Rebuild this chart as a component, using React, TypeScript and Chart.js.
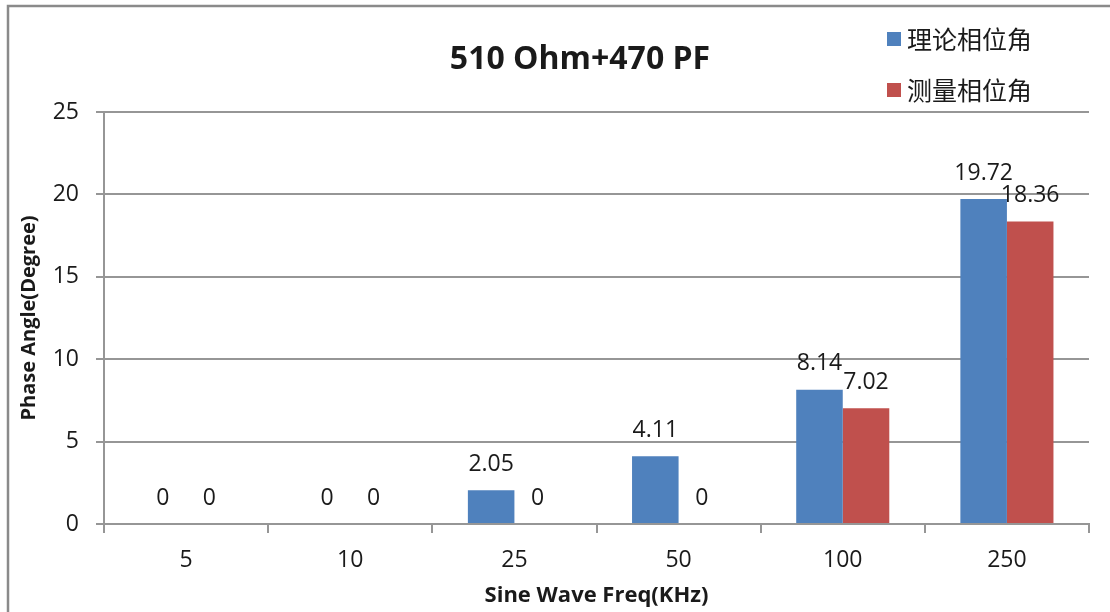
import React, { useEffect, useRef } from 'react';
import { Chart, registerables } from 'chart.js';

Chart.register(...registerables);

const categories = ['5', '10', '25', '50', '100', '250'];
const theoretical = [0, 0, 2.05, 4.11, 8.14, 19.72];
const measured = [0, 0, 0, 0, 7.02, 18.36];
const seriesNames = ['理论相位角', '测量相位角'];
const seriesColors = ['#4F81BD', '#C0504D'];
const yTicks = [0, 5, 10, 15, 20, 25];
const chartTitle = '510 Ohm+470 PF';
const xTitle = 'Sine Wave Freq(KHz)';
const yTitle = 'Phase Angle(Degree)';

const FONT = '"Open Sans", "DejaVu Sans", sans-serif';
const CJK = '"Noto Sans CJK SC", "Noto Sans", sans-serif';
const GRID = '#969696';
const TEXT = '#1a1a1a';

const decorPlugin = {
  id: 'decor',
  beforeDraw(chart: any) {
    const ctx = chart.ctx;
    ctx.save();
    ctx.fillStyle = '#ffffff';
    ctx.fillRect(0, 0, chart.width, chart.height);
    ctx.strokeStyle = '#8a8a8a';
    ctx.lineWidth = 2.5;
    ctx.strokeRect(8, 6, 1300, 800);
    ctx.restore();
  },
  afterDatasetsDraw(chart: any) {
    const ctx = chart.ctx;
    ctx.save();
    ctx.font = `23px ${FONT}`;
    ctx.fillStyle = TEXT;
    ctx.textAlign = 'center';
    ctx.textBaseline = 'middle';
    chart.data.datasets.forEach((ds: any, di: number) => {
      const meta = chart.getDatasetMeta(di);
      meta.data.forEach((bar: any, i: number) => {
        ctx.fillText(String(ds.data[i]), bar.x, bar.y - 26);
      });
    });
    ctx.restore();
  },
  afterDraw(chart: any) {
    const ctx = chart.ctx;
    ctx.save();
    ctx.fillStyle = TEXT;
    ctx.font = `bold 32px ${FONT}`;
    ctx.textAlign = 'center';
    ctx.textBaseline = 'middle';
    ctx.fillText(chartTitle, 580, 60);
    // legend
    ctx.textAlign = 'left';
    ctx.font = `25px ${CJK}`;
    const rows = [39, 90];
    seriesNames.forEach((name, i) => {
      ctx.fillStyle = seriesColors[i];
      ctx.fillRect(887, rows[i] - 7, 14, 14);
      ctx.fillStyle = TEXT;
      ctx.fillText(name, 907, rows[i]);
    });
    ctx.restore();
  },
};

export default function App() {
  const ref = useRef<HTMLCanvasElement | null>(null);
  useEffect(() => {
    if (!ref.current) return;
    const chart = new Chart(ref.current, {
      type: 'bar',
      data: {
        labels: categories,
        datasets: [
          { label: seriesNames[0], data: theoretical, backgroundColor: seriesColors[0], categoryPercentage: 0.567, barPercentage: 1 },
          { label: seriesNames[1], data: measured, backgroundColor: seriesColors[1], categoryPercentage: 0.567, barPercentage: 1 },
        ],
      },
      options: {
        responsive: false,
        animation: false,
        layout: { padding: { top: 112, right: 21, bottom: 0, left: 0 } },
        plugins: {
          legend: { display: false },
          title: { display: false },
          tooltip: { enabled: false },
        },
        scales: {
          x: {
            afterFit: (s: any) => { s.height = 88; },
            grid: { drawOnChartArea: false, drawTicks: true, tickLength: 9, color: GRID, lineWidth: 2, offset: true },
            border: { color: GRID, width: 2 },
            ticks: { color: TEXT, font: { family: FONT, size: 23 }, padding: 14 },
            title: { display: true, text: xTitle, color: TEXT, font: { family: FONT, size: 22, weight: 'bold' }, padding: { top: 0, bottom: 3 } },
          },
          y: {
            min: yTicks[0],
            max: yTicks[yTicks.length - 1],
            afterFit: (s: any) => { s.width = 104; },
            ticks: { stepSize: yTicks[1] - yTicks[0], color: TEXT, font: { family: FONT, size: 23 }, padding: 17 },
            grid: { color: GRID, lineWidth: 2, tickLength: 8 },
            border: { color: GRID, width: 2 },
            title: { display: true, text: yTitle, color: TEXT, font: { family: FONT, size: 20, weight: 'bold' }, padding: { top: 17, bottom: 0 } },
          },
        },
      },
      plugins: [decorPlugin],
    } as any);
    return () => chart.destroy();
  }, []);
  return (
    <div style={{ position: 'fixed', left: 0, top: 0, width: 1110, height: 612, background: '#fff' }}>
      <canvas ref={ref} width={1110} height={612} style={{ display: 'block', width: 1110, height: 612 }} />
    </div>
  );
}
